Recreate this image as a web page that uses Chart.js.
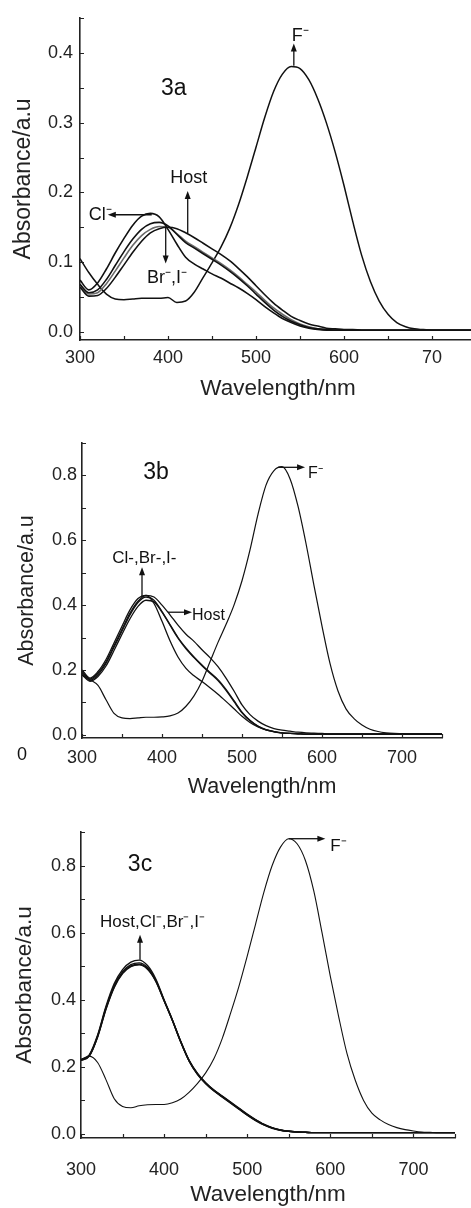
<!DOCTYPE html>
<html>
<head>
<meta charset="utf-8">
<script src="https://cdn.jsdelivr.net/npm/chart.js@4.4.1/dist/chart.umd.min.js"></script>
<style>
  html, body { margin: 0; padding: 0; background: #fff; overflow: hidden; }
  #wrap { position: relative; width: 471px; height: 1208px; overflow: hidden; }
  canvas { position: absolute; left: 0; }
</style>
</head>
<body>
<div id="wrap">
  <canvas id="chartA" width="480" height="405" style="top:0px"></canvas>
  <canvas id="chartB" width="471" height="395" style="top:405px"></canvas>
  <canvas id="chartC" width="471" height="408" style="top:800px"></canvas>
</div>
<script>
// wavelength grid (nm), shared by all three panels
const wavelengths = [300,310,320,330,340,350,360,370,380,390,
                     400,410,420,430,440,450,460,470,480,490,
                     500,510,520,530,540,550,560,570,580,590,
                     600,610,620,630,640,650,660,670,680,690,
                     700,710,720,730,740,750];

// ---- panel 3a ----
const hostA = [0.064,0.051,0.052,0.062,0.078,0.096,0.114,0.130,0.142,0.148,
               0.150,0.148,0.142,0.135,0.127,0.119,0.111,0.102,0.091,0.079,
               0.066,0.053,0.041,0.031,0.022,0.016,0.011,0.008,0.005,0.004,
               0.003,0.003,0.002,0.002,0.002,0.002,0.002,0.002,0.002,0.002,
               0.002,0.002,0.002,0.002,0.002,0.002];
const clA   = [0.074,0.060,0.070,0.090,0.113,0.134,0.153,0.166,0.170,0.165,
               0.147,0.126,0.107,0.097,0.090,0.083,0.077,0.070,0.063,0.055,
               0.046,0.036,0.027,0.019,0.013,0.008,0.005,0.003,0.002,0.002,
               0.002,0.002,0.002,0.002,0.002,0.002,0.002,0.002,0.002,0.002,
               0.002,0.002,0.002,0.002,0.002,0.002];
const brA   = [0.068,0.056,0.060,0.075,0.095,0.115,0.133,0.147,0.155,0.157,
               0.152,0.140,0.128,0.120,0.112,0.104,0.096,0.087,0.077,0.066,
               0.054,0.042,0.031,0.022,0.015,0.010,0.006,0.004,0.003,0.002,
               0.002,0.002,0.002,0.002,0.002,0.002,0.002,0.002,0.002,0.002,
               0.002,0.002,0.002,0.002,0.002,0.002];
const iA    = [0.066,0.054,0.056,0.069,0.087,0.106,0.124,0.138,0.147,0.151,
               0.150,0.141,0.130,0.122,0.114,0.106,0.098,0.089,0.079,0.068,
               0.057,0.045,0.034,0.025,0.017,0.011,0.007,0.004,0.003,0.002,
               0.002,0.002,0.002,0.002,0.002,0.002,0.002,0.002,0.002,0.002,
               0.002,0.002,0.002,0.002,0.002,0.002];
const fA    = [0.105,0.085,0.068,0.054,0.047,0.046,0.047,0.048,0.048,0.048,
               0.049,0.042,0.044,0.057,0.078,0.099,0.121,0.148,0.182,0.222,
               0.265,0.308,0.345,0.370,0.381,0.378,0.362,0.335,0.300,0.258,
               0.210,0.158,0.110,0.072,0.044,0.025,0.013,0.007,0.004,0.003,
               0.002,0.002,0.002,0.002,0.002,0.002];

// ---- panel 3b ----
const hostB = [0.195,0.172,0.190,0.225,0.275,0.325,0.375,0.412,0.430,0.425,
               0.400,0.370,0.338,0.310,0.288,0.262,0.238,0.210,0.175,0.135,
               0.092,0.062,0.042,0.028,0.019,0.014,0.011,0.008,0.006,0.005,
               0.004,0.003,0.003,0.003,0.003,0.003,0.003,0.003,0.003,0.003,
               0.003,0.003,0.003,0.003,0.003,0.003];
const clB   = [0.200,0.175,0.195,0.232,0.283,0.335,0.385,0.420,0.430,0.405,
               0.350,0.290,0.240,0.205,0.182,0.164,0.145,0.125,0.103,0.080,
               0.057,0.038,0.024,0.015,0.010,0.006,0.004,0.003,0.002,0.002,
               0.002,0.002,0.002,0.002,0.002,0.002,0.002,0.002,0.002,0.002,
               0.002,0.002,0.002,0.002,0.002,0.002];
const brB   = [0.190,0.168,0.185,0.220,0.270,0.320,0.370,0.408,0.425,0.415,
               0.380,0.340,0.300,0.268,0.240,0.215,0.192,0.170,0.140,0.105,
               0.070,0.045,0.027,0.016,0.010,0.006,0.004,0.003,0.002,0.002,
               0.002,0.002,0.002,0.002,0.002,0.002,0.002,0.002,0.002,0.002,
               0.002,0.002,0.002,0.002,0.002,0.002];
const iB    = [0.185,0.165,0.180,0.212,0.260,0.310,0.358,0.396,0.415,0.410,
               0.378,0.338,0.298,0.265,0.238,0.213,0.190,0.167,0.137,0.102,
               0.068,0.043,0.026,0.015,0.009,0.005,0.004,0.003,0.002,0.002,
               0.002,0.002,0.002,0.002,0.002,0.002,0.002,0.002,0.002,0.002,
               0.002,0.002,0.002,0.002,0.002,0.002];
const fB    = [0.185,0.170,0.152,0.108,0.066,0.052,0.050,0.052,0.054,0.054,
               0.055,0.058,0.067,0.088,0.120,0.165,0.225,0.285,0.340,0.400,
               0.475,0.570,0.680,0.770,0.815,0.827,0.790,0.705,0.590,0.460,
               0.335,0.220,0.135,0.080,0.050,0.030,0.017,0.010,0.006,0.004,
               0.003,0.002,0.002,0.002,0.002,0.002];

// ---- panel 3c ----
const hostC = [0.222,0.236,0.295,0.380,0.448,0.490,0.512,0.518,0.502,0.462,
               0.400,0.340,0.275,0.218,0.178,0.150,0.128,0.110,0.092,0.074,
               0.056,0.040,0.027,0.017,0.011,0.008,0.006,0.005,0.004,0.004,
               0.004,0.004,0.004,0.004,0.004,0.004,0.004,0.004,0.004,0.004,
               0.004,0.004,0.004,0.004,0.004,0.004];
const clC   = [0.221,0.234,0.292,0.376,0.442,0.484,0.505,0.510,0.496,0.458,
               0.398,0.338,0.274,0.218,0.179,0.151,0.129,0.111,0.093,0.075,
               0.057,0.041,0.028,0.018,0.011,0.008,0.006,0.005,0.004,0.004,
               0.004,0.004,0.004,0.004,0.004,0.004,0.004,0.004,0.004,0.004,
               0.004,0.004,0.004,0.004,0.004,0.004];
const brC   = [0.220,0.233,0.290,0.373,0.439,0.480,0.501,0.506,0.493,0.456,
               0.397,0.338,0.275,0.219,0.180,0.152,0.130,0.112,0.094,0.076,
               0.058,0.042,0.028,0.018,0.012,0.008,0.006,0.005,0.004,0.004,
               0.004,0.004,0.004,0.004,0.004,0.004,0.004,0.004,0.004,0.004,
               0.004,0.004,0.004,0.004,0.004,0.004];
const iC    = [0.219,0.232,0.289,0.371,0.437,0.478,0.499,0.504,0.491,0.455,
               0.397,0.339,0.276,0.220,0.181,0.153,0.131,0.113,0.095,0.077,
               0.059,0.043,0.029,0.019,0.012,0.008,0.006,0.005,0.004,0.004,
               0.004,0.004,0.004,0.004,0.004,0.004,0.004,0.004,0.004,0.004,
               0.004,0.004,0.004,0.004,0.004,0.004];
const fC    = [0.222,0.232,0.213,0.162,0.105,0.082,0.078,0.084,0.087,0.088,
               0.088,0.093,0.104,0.124,0.150,0.182,0.225,0.285,0.360,0.440,
               0.530,0.625,0.720,0.800,0.855,0.880,0.865,0.815,0.725,0.600,
               0.470,0.350,0.240,0.160,0.100,0.062,0.042,0.028,0.019,0.013,
               0.009,0.006,0.005,0.004,0.004,0.004];

const xTicksA = {700: '70'};  // the 700 label is clipped to "70" in panel 3a

const FONT = '"Liberation Sans", Arial, sans-serif';
Chart.defaults.font.family = FONT;
Chart.defaults.color = '#1a1a1a';

function pts(ys) {
  return wavelengths.map((w, i) => ({x: w, y: ys[i]}));
}

function line(ys, w, color) {
  return {
    data: pts(ys),
    borderColor: color || '#111',
    borderWidth: w,
    pointRadius: 0,
    fill: false,
    cubicInterpolationMode: 'monotone'
  };
}

// small inward tick marks on both axes
function tickMarks(yStep) {
  return {
    id: 'tickMarks',
    afterDatasetsDraw(chart) {
      const ctx = chart.ctx, xs = chart.scales.x, ys = chart.scales.y;
      const a = chart.chartArea;
      ctx.save();
      ctx.strokeStyle = '#222';
      ctx.lineWidth = 1.2;
      ctx.beginPath();
      for (let v = 300; v <= 750; v += 50) {
        const px = Math.round(xs.getPixelForValue(v)) + 0.5;
        ctx.moveTo(px, a.bottom);
        ctx.lineTo(px, a.bottom - 4);
      }
      for (let k = 0; k * yStep <= ys.max; k++) {
        const py = Math.round(ys.getPixelForValue(k * yStep)) + 0.5;
        ctx.moveTo(a.left, py);
        ctx.lineTo(a.left + 4, py);
      }
      ctx.stroke();
      ctx.restore();
    }
  };
}

// text labels and arrows, placed in data units
function notes(items) {
  return {
    id: 'notes',
    afterDraw(chart) {
      const ctx = chart.ctx, xs = chart.scales.x, ys = chart.scales.y;
      ctx.save();
      ctx.fillStyle = '#111';
      ctx.strokeStyle = '#111';
      items.forEach(it => {
        if (it.arrow) {
          const x1 = xs.getPixelForValue(it.arrow[0]), y1 = ys.getPixelForValue(it.arrow[1]);
          const x2 = xs.getPixelForValue(it.arrow[2]), y2 = ys.getPixelForValue(it.arrow[3]);
          const ang = Math.atan2(y2 - y1, x2 - x1);
          const c = Math.cos(ang), s = Math.sin(ang);
          ctx.lineWidth = 1.3;
          ctx.beginPath();
          ctx.moveTo(x1, y1);
          ctx.lineTo(x2 - 6 * c, y2 - 6 * s);
          ctx.stroke();
          ctx.beginPath();
          ctx.moveTo(x2, y2);
          ctx.lineTo(x2 - 8 * c + 3 * s, y2 - 8 * s - 3 * c);
          ctx.lineTo(x2 - 8 * c - 3 * s, y2 - 8 * s + 3 * c);
          ctx.closePath();
          ctx.fill();
        } else {
          ctx.font = it.size + 'px ' + FONT;
          ctx.textAlign = it.align || 'center';
          ctx.textBaseline = 'middle';
          ctx.fillText(it.text, xs.getPixelForValue(it.x), ys.getPixelForValue(it.y));
        }
      });
      ctx.restore();
    }
  };
}

function makeChart(id, p) {
  return new Chart(document.getElementById(id), {
    type: 'line',
    data: { datasets: p.datasets },
    options: {
      responsive: false,
      animation: false,
      devicePixelRatio: 1,
      layout: { padding: { top: p.top, right: p.right, left: 0, bottom: 0 } },
      plugins: { legend: { display: false }, tooltip: { enabled: false } },
      scales: {
        x: {
          type: 'linear', min: 300, max: 750,
          grid: { drawOnChartArea: false, drawTicks: false },
          border: { display: true, color: '#222', width: 1.6 },
          ticks: {
            stepSize: 100, includeBounds: false, autoSkip: false, maxRotation: 0,
            padding: p.xTickPad, color: '#222', font: { size: 18 },
            callback: v => (p.xLabels && p.xLabels[v]) || String(v)
          },
          title: {
            display: true, text: 'Wavelength/nm', color: '#222',
            font: { size: p.xTitleSize }, padding: { top: 0, bottom: p.xTitlePad }
          },
          afterFit: s => { s.height = p.xHeight; }
        },
        y: {
          type: 'linear', min: p.yMin, max: p.yMax,
          grid: { drawOnChartArea: false, drawTicks: false },
          border: { display: true, color: '#222', width: 1.6 },
          ticks: {
            stepSize: p.yLabelStep, includeBounds: false, padding: p.yTickPad,
            color: '#222', font: { size: 18 },
            callback: v => v.toFixed(1)
          },
          title: {
            display: true, text: 'Absorbance/a.u', color: '#222',
            font: { size: p.yTitleSize }, padding: { top: p.yTitlePad, bottom: 0 }
          },
          afterFit: s => { s.width = p.yWidth; }
        }
      }
    },
    plugins: [tickMarks(p.yTickStep), notes(p.notes)]
  });
}

makeChart('chartA', {
  datasets: [line(hostA, 1.6), line(clA, 1.6), line(brA, 1.6), line(iA, 1.6, '#6a6a6a'), line(fA, 1.5)],
  top: 15, right: 4, yWidth: 80, xHeight: 65,
  yMin: -0.012, yMax: 0.451, yLabelStep: 0.1, yTickStep: 0.05,
  xTickPad: 7, yTickPad: 7, xTitleSize: 22.5, xTitlePad: 3, yTitleSize: 23, yTitlePad: 10,
  xLabels: xTicksA,
  notes: [
    { text: '3a', x: 406.5, y: 0.349, size: 23 },
    { arrow: [543, 0.382, 543, 0.414] },
    { text: 'F⁻', x: 540.5, y: 0.425, size: 18, align: 'left' },
    { text: 'Host', x: 423.7, y: 0.221, size: 18 },
    { arrow: [422.4, 0.141, 422.4, 0.202] },
    { text: 'Cl⁻', x: 310, y: 0.167, size: 18, align: 'left' },
    { arrow: [381.5, 0.168, 331.6, 0.168] },
    { text: 'Br⁻,I⁻', x: 376, y: 0.077, size: 18, align: 'left' },
    { arrow: [397.4, 0.149, 397.4, 0.098] }
  ]
});

makeChart('chartB', {
  datasets: [line(hostB, 1.3), line(clB, 1.3), line(brB, 1.3), line(iB, 1.3), line(fB, 1.2)],
  top: 38, right: 29, yWidth: 82, xHeight: 62,
  yMin: -0.01, yMax: 0.9, yLabelStep: 0.2, yTickStep: 0.1,
  xTickPad: 9, yTickPad: 5, xTitleSize: 21.5, xTitlePad: 0, yTitleSize: 21.5, yTitlePad: 14,
  notes: [
    { text: '3b', x: 392.5, y: 0.809, size: 23 },
    { arrow: [545, 0.825, 578.8, 0.825] },
    { text: 'F⁻', x: 582.5, y: 0.806, size: 16, align: 'left' },
    { text: 'Cl-,Br-,I-', x: 378, y: 0.545, size: 17 },
    { arrow: [375, 0.425, 375, 0.517] },
    { arrow: [407.5, 0.378, 437.5, 0.378] },
    { text: 'Host', x: 437.5, y: 0.369, size: 16, align: 'left' },
    { text: '0', x: 225, y: -0.062, size: 18 }
  ]
});

makeChart('chartC', {
  datasets: [line(hostC, 1.4), line(clC, 1.4), line(brC, 1.4), line(iC, 1.4), line(fC, 1.1)],
  top: 32, right: 16, yWidth: 81, xHeight: 70,
  yMin: -0.012, yMax: 0.9, yLabelStep: 0.2, yTickStep: 0.1,
  xTickPad: 21, yTickPad: 5, xTitleSize: 22.5, xTitlePad: 0, yTitleSize: 22.5, yTitlePad: 11.5,
  notes: [
    { text: '3c', x: 371, y: 0.803, size: 23 },
    { arrow: [550, 0.88, 594, 0.88] },
    { text: 'F⁻', x: 600, y: 0.857, size: 17, align: 'left' },
    { text: 'Host,Cl⁻,Br⁻,I⁻', x: 386, y: 0.63, size: 17 },
    { arrow: [371, 0.519, 371, 0.594] }
  ]
});
</script>
</body>
</html>
